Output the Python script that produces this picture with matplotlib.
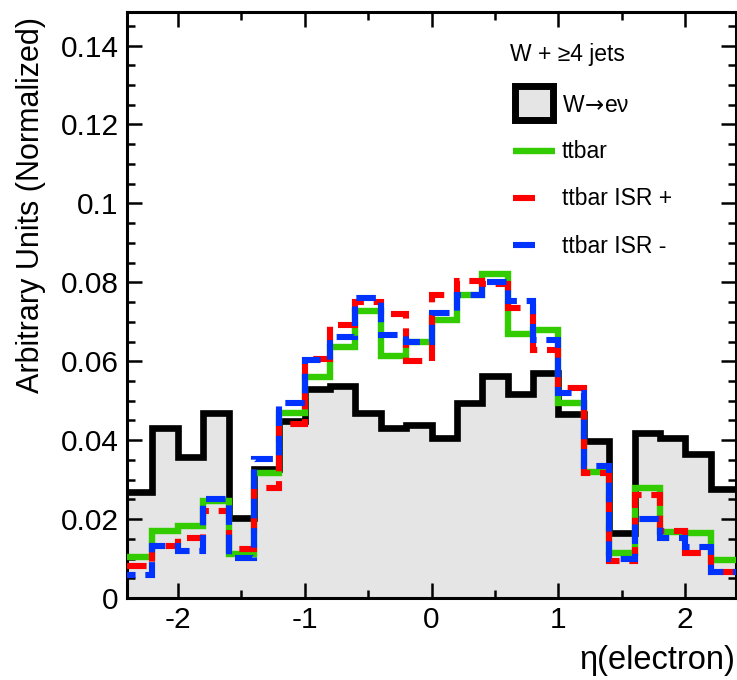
import matplotlib
matplotlib.use('Agg')
import matplotlib.pyplot as plt
import numpy as np
from matplotlib.patches import Rectangle
from matplotlib.lines import Line2D
from matplotlib.ticker import MultipleLocator, FuncFormatter

plt.rcParams['font.family'] = ['Liberation Sans', 'DejaVu Sans']
plt.rcParams['axes.unicode_minus'] = False

# ---- data ----
eta_edges = np.linspace(-2.4, 2.4, 25)
w_enu = [0.0268, 0.0430, 0.0357, 0.0469, 0.0203, 0.0327, 0.0449, 0.0530, 0.0538, 0.0468,
         0.0431, 0.0438, 0.0405, 0.0495, 0.0563, 0.0517, 0.0570, 0.0466, 0.0398, 0.0164,
         0.0417, 0.0406, 0.0366, 0.0277]
ttbar = [0.0104, 0.0170, 0.0183, 0.0245, 0.0111, 0.0318, 0.0470, 0.0561, 0.0635, 0.0727,
         0.0614, 0.0648, 0.0704, 0.0767, 0.0820, 0.0668, 0.0680, 0.0495, 0.0320, 0.0114,
         0.0279, 0.0166, 0.0165, 0.0096]
ttbar_isr_up = [0.0081, 0.0131, 0.0152, 0.0221, 0.0124, 0.0279, 0.0442, 0.0606, 0.0691, 0.0750,
                0.0719, 0.0600, 0.0769, 0.0803, 0.0795, 0.0735, 0.0628, 0.0532, 0.0316, 0.0093,
                0.0260, 0.0171, 0.0115, 0.0065]
ttbar_isr_down = [0.0059, 0.0131, 0.0118, 0.0250, 0.0101, 0.0352, 0.0495, 0.0602, 0.0662, 0.0759,
                  0.0666, 0.0648, 0.0723, 0.0769, 0.0800, 0.0752, 0.0655, 0.0519, 0.0335, 0.0099,
                  0.0199, 0.0152, 0.0130, 0.0065]
labels = ['W$\\!\\rightarrow\\!$e\u03bd', 'ttbar', 'ttbar ISR +', 'ttbar ISR -']
title_text = 'W + \u22654 jets'

FILL = '#e5e5e5'
GREEN = '#33cc00'
RED = '#ff0000'
BLUE = '#0033ff'

W, H = 737, 680
fig = plt.figure(figsize=(W / 100, H / 100), dpi=100)
ax = fig.add_axes([127 / W, 82 / H, 609 / W, 586 / H])

ax.stairs(w_enu, eta_edges, fill=True, color=FILL, lw=0, zorder=1)
ax.stairs(w_enu, eta_edges, baseline=None, color='black', lw=4.8, zorder=2, joinstyle='miter')
ax.stairs(ttbar, eta_edges, baseline=None, color=GREEN, lw=4.6, zorder=3, joinstyle='miter')
ax.stairs(ttbar_isr_up, eta_edges, baseline=None, color=RED, lw=4.4, zorder=4,
          linestyle=(0, (3.2, 1.6)), capstyle='butt')
ax.stairs(ttbar_isr_down, eta_edges, baseline=None, color=BLUE, lw=4.4, zorder=5,
          linestyle=(1.8, (3.2, 1.6)), capstyle='butt')

ax.set_xlim(-2.4, 2.4)
ax.set_ylim(0, 0.1485)
ax.xaxis.set_major_locator(MultipleLocator(1))
ax.xaxis.set_minor_locator(MultipleLocator(0.5))
ax.yaxis.set_major_locator(MultipleLocator(0.02))
ax.yaxis.set_minor_locator(MultipleLocator(0.005))
ax.yaxis.set_major_formatter(FuncFormatter(lambda v, p: '%g' % round(v, 3)))
ax.xaxis.set_major_formatter(FuncFormatter(lambda v, p: '%g' % round(v, 3)))
ax.tick_params(which='both', direction='in', top=True, right=True, width=1.8,
               labelsize=21.5, pad=6)
ax.tick_params(which='major', length=11)
ax.tick_params(which='minor', length=5.5)
for s in ax.spines.values():
    s.set_linewidth(2.2)
ax.set_axisbelow(False)

fig.text(31 / W, 1 - 17 / H, 'Arbitrary Units (Normalized)', rotation=90,
         ha='center', va='top', fontsize=22)
fig.text(735 / W, 1 - 660 / H, '\u03b7(electron)', ha='right', va='center', fontsize=23.5)

# ---- legend ----
def fx(px):
    return px / W

def fy(py):
    return 1 - py / H

fig.text(fx(510), fy(55), title_text, ha='left', va='center', fontsize=16.5)
fig.add_artist(Rectangle((fx(514.5), fy(119.5)), (553 - 514.5) / W, 33 / H,
                         transform=fig.transFigure, facecolor=FILL, edgecolor='black',
                         lw=5, joinstyle='miter'))
fig.add_artist(Line2D([fx(513), fx(555)], [fy(151)] * 2, transform=fig.transFigure,
                      color=GREEN, lw=4.6, solid_capstyle='butt'))
fig.add_artist(Line2D([fx(513), fx(535)], [fy(198)] * 2, transform=fig.transFigure,
                      color=RED, lw=4.4, solid_capstyle='butt'))
fig.add_artist(Line2D([fx(513), fx(535)], [fy(245)] * 2, transform=fig.transFigure,
                      color=BLUE, lw=4.4, solid_capstyle='butt'))
for txt, py in zip(labels, [105, 151, 198, 246]):
    fig.text(fx(562), fy(py), txt, ha='left', va='center', fontsize=16.5)

fig.savefig('out.png', dpi=100)
